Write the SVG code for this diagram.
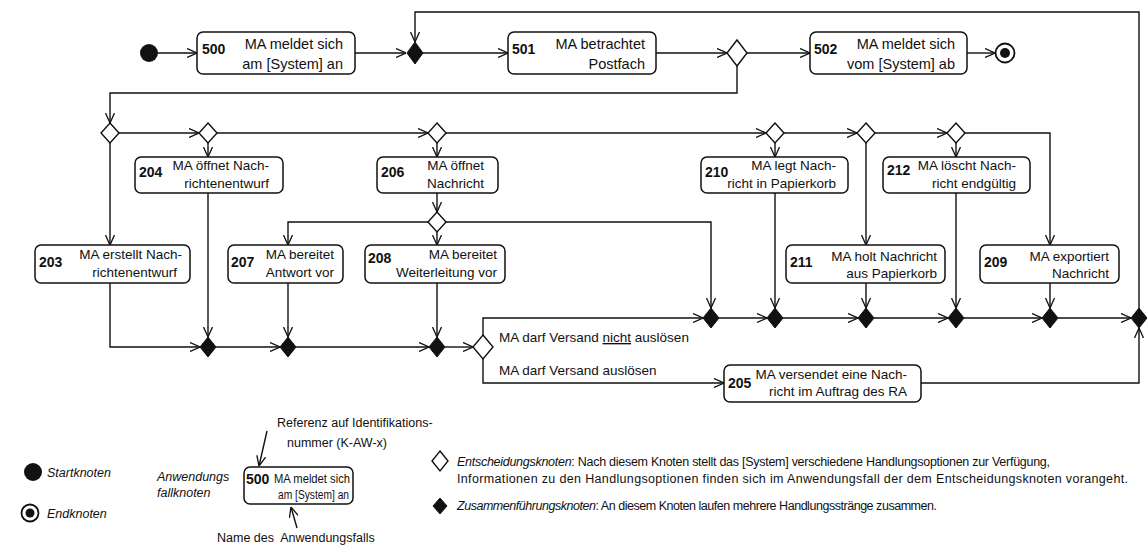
<svg xmlns="http://www.w3.org/2000/svg" width="1148" height="547" viewBox="0 0 1148 547">
<defs>
<marker id="arr" viewBox="0 0 10 10" refX="10" refY="5" markerWidth="10" markerHeight="10" markerUnits="userSpaceOnUse" orient="auto">
<path d="M0,0.5 L10,5 L0,9.5" fill="none" stroke="#111" stroke-width="1.3"/>
</marker>
<style>
.ln{fill:none;stroke:#111;stroke-width:1.4}
.bx{fill:#fff;stroke:#111;stroke-width:1.5}
.dec{fill:#fff;stroke:#111;stroke-width:1.4}
.mrg{fill:#111;stroke:#111;stroke-width:1}
.t{font-family:"Liberation Sans",Arial,sans-serif;font-size:13.5px;fill:#111}
.tt{font-family:"Liberation Sans",Arial,sans-serif;font-size:14.5px;fill:#111}
.n{font-family:"Liberation Sans",Arial,sans-serif;font-size:14px;font-weight:bold;fill:#111}
.e{text-anchor:end}
.lg{font-family:"Liberation Sans",Arial,sans-serif;font-size:12.5px;fill:#111}
.it{font-style:italic}
</style>
</defs>
<rect width="1148" height="547" fill="#fff"/>

<g id="connectors">
<path class="ln" marker-end="url(#arr)" d="M158,53 H197"/>
<path class="ln" marker-end="url(#arr)" d="M355,53 H406"/>
<path class="ln" marker-end="url(#arr)" d="M423,53 H508"/>
<path class="ln" marker-end="url(#arr)" d="M656,53 H727"/>
<path class="ln" marker-end="url(#arr)" d="M747,53 H810"/>
<path class="ln" marker-end="url(#arr)" d="M967,53 H995"/>
<path class="ln" marker-end="url(#arr)" d="M1139,308 V12 H415 V42"/>
<path class="ln" marker-end="url(#arr)" d="M737,66 V93 H110 V123"/>
<path class="ln" marker-end="url(#arr)" d="M119,133 H199"/>
<path class="ln" marker-end="url(#arr)" d="M217,133 H428"/>
<path class="ln" marker-end="url(#arr)" d="M446,133 H766"/>
<path class="ln" marker-end="url(#arr)" d="M784,133 H857"/>
<path class="ln" marker-end="url(#arr)" d="M875,133 H947"/>
<path class="ln" marker-end="url(#arr)" d="M965,133 H1050 V245"/>
<path class="ln" marker-end="url(#arr)" d="M110,143 V245"/>
<path class="ln" marker-end="url(#arr)" d="M208,143 V157"/>
<path class="ln" marker-end="url(#arr)" d="M437,143 V157"/>
<path class="ln" marker-end="url(#arr)" d="M775,143 V157"/>
<path class="ln" marker-end="url(#arr)" d="M866,143 V245"/>
<path class="ln" marker-end="url(#arr)" d="M956,143 V157"/>
<path class="ln" marker-end="url(#arr)" d="M208,193 V337"/>
<path class="ln" marker-end="url(#arr)" d="M437,193 V212"/>
<path class="ln" marker-end="url(#arr)" d="M428,222 H288 V245"/>
<path class="ln" marker-end="url(#arr)" d="M437,232 V245"/>
<path class="ln" marker-end="url(#arr)" d="M446,222 H711 V308"/>
<path class="ln" marker-end="url(#arr)" d="M775,193 V308"/>
<path class="ln" marker-end="url(#arr)" d="M956,193 V308"/>
<path class="ln" marker-end="url(#arr)" d="M110,283 V347 H200"/>
<path class="ln" marker-end="url(#arr)" d="M216,347 H280"/>
<path class="ln" marker-end="url(#arr)" d="M288,283 V337"/>
<path class="ln" marker-end="url(#arr)" d="M296,347 H429"/>
<path class="ln" marker-end="url(#arr)" d="M437,283 V337"/>
<path class="ln" marker-end="url(#arr)" d="M445,347 H473"/>
<path class="ln" marker-end="url(#arr)" d="M483,335 V318 H703"/>
<path class="ln" marker-end="url(#arr)" d="M483,359 V383 H724"/>
<path class="ln" marker-end="url(#arr)" d="M921,383 H1139 V328"/>
<path class="ln" marker-end="url(#arr)" d="M719,318 H767"/>
<path class="ln" marker-end="url(#arr)" d="M783,318 H858"/>
<path class="ln" marker-end="url(#arr)" d="M874,318 H948"/>
<path class="ln" marker-end="url(#arr)" d="M964,318 H1042"/>
<path class="ln" marker-end="url(#arr)" d="M1058,318 H1131"/>
<path class="ln" marker-end="url(#arr)" d="M866,283 V308"/>
<path class="ln" marker-end="url(#arr)" d="M1050,283 V308"/>
<text class="t" x="499" y="342">MA darf Versand <tspan text-decoration="underline">nicht</tspan> auslösen</text>
<text class="t" x="499" y="375">MA darf Versand auslösen</text>
</g>

<g id="start"><circle cx="149" cy="53" r="9" fill="#111"/></g>
<g id="end"><circle cx="1005" cy="53" r="9.5" fill="#fff" stroke="#111" stroke-width="1.8"/><circle cx="1005" cy="53" r="5" fill="#111"/></g>

<g id="n500"><rect class="bx" x="197" y="32" width="158" height="42" rx="6"/>
<text class="n" x="202" y="54">500</text>
<text class="tt e" x="343" y="49">MA meldet sich</text><text class="tt e" x="343" y="69">am [System] an</text></g>
<g id="m0"><path class="mrg" d="M415,42 L423,53 L415,64 L407,53 Z"/></g>
<g id="n501"><rect class="bx" x="508" y="32" width="148" height="42" rx="6"/>
<text class="n" x="512" y="54">501</text>
<text class="tt e" x="645" y="49">MA betrachtet</text><text class="tt e" x="645" y="69">Postfach</text></g>
<g id="d0"><path class="dec" d="M737,40 L747,53 L737,66 L727,53 Z"/></g>
<g id="n502"><rect class="bx" x="810" y="32" width="157" height="42" rx="6"/>
<text class="n" x="814" y="54">502</text>
<text class="tt e" x="955" y="49">MA meldet sich</text><text class="tt e" x="955" y="69">vom [System] ab</text></g>

<g id="d1"><path class="dec" d="M110,123 L119,133 L110,143 L101,133 Z"/></g>
<g id="d2"><path class="dec" d="M208,123 L217,133 L208,143 L199,133 Z"/></g>
<g id="d3"><path class="dec" d="M437,123 L446,133 L437,143 L428,133 Z"/></g>
<g id="d4"><path class="dec" d="M775,123 L784,133 L775,143 L766,133 Z"/></g>
<g id="d5"><path class="dec" d="M866,123 L875,133 L866,143 L857,133 Z"/></g>
<g id="d6"><path class="dec" d="M956,123 L965,133 L956,143 L947,133 Z"/></g>
<g id="d7"><path class="dec" d="M437,212 L446,222 L437,232 L428,222 Z"/></g>
<g id="d8"><path class="dec" d="M483,335 L493,347 L483,359 L473,347 Z"/></g>

<g id="n204"><rect class="bx" x="135" y="157" width="148" height="36" rx="6"/>
<text class="n" x="139" y="177">204</text>
<text class="t e" x="269" y="170">MA öffnet Nach-</text><text class="t e" x="269" y="188">richtenentwurf</text></g>
<g id="n206"><rect class="bx" x="377" y="157" width="121" height="36" rx="6"/>
<text class="n" x="381" y="177">206</text>
<text class="t e" x="484" y="170">MA öffnet</text><text class="t e" x="484" y="188">Nachricht</text></g>
<g id="n210"><rect class="bx" x="701" y="157" width="147" height="36" rx="6"/>
<text class="n" x="705" y="177">210</text>
<text class="t e" x="836" y="170">MA legt Nach-</text><text class="t e" x="836" y="188">richt in Papierkorb</text></g>
<g id="n212"><rect class="bx" x="883" y="157" width="147" height="36" rx="6"/>
<text class="n" x="887" y="175">212</text>
<text class="t e" x="1016" y="170">MA löscht Nach-</text><text class="t e" x="1016" y="188">richt endgültig</text></g>

<g id="n203"><rect class="bx" x="35" y="245" width="155" height="38" rx="6"/>
<text class="n" x="39" y="267">203</text>
<text class="t e" x="182" y="259">MA erstellt Nach-</text><text class="t e" x="177" y="277">richtenentwurf</text></g>
<g id="n207"><rect class="bx" x="228" y="245" width="115" height="38" rx="6"/>
<text class="n" x="231" y="267">207</text>
<text class="t e" x="334" y="259">MA bereitet</text><text class="t e" x="334" y="277">Antwort vor</text></g>
<g id="n208"><rect class="bx" x="365" y="245" width="140" height="38" rx="6"/>
<text class="n" x="368" y="263">208</text>
<text class="t e" x="497" y="259">MA bereitet</text><text class="t e" x="497" y="277">Weiterleitung vor</text></g>
<g id="n211"><rect class="bx" x="786" y="245" width="159" height="38" rx="6"/>
<text class="n" x="790" y="267">211</text>
<text class="t e" x="937" y="261">MA holt Nachricht</text><text class="t e" x="937" y="278">aus Papierkorb</text></g>
<g id="n209"><rect class="bx" x="980" y="245" width="139" height="38" rx="6"/>
<text class="n" x="984" y="267">209</text>
<text class="t e" x="1109" y="261">MA exportiert</text><text class="t e" x="1109" y="278">Nachricht</text></g>

<g id="m2"><path class="mrg" d="M208,337 L216,347 L208,357 L200,347 Z"/></g>
<g id="m3"><path class="mrg" d="M288,337 L296,347 L288,357 L280,347 Z"/></g>
<g id="m4"><path class="mrg" d="M437,337 L445,347 L437,357 L429,347 Z"/></g>
<g id="n1"><path class="mrg" d="M711,308 L719,318 L711,328 L703,318 Z"/></g>
<g id="n2"><path class="mrg" d="M775,308 L783,318 L775,328 L767,318 Z"/></g>
<g id="n3"><path class="mrg" d="M866,308 L874,318 L866,328 L858,318 Z"/></g>
<g id="n4"><path class="mrg" d="M956,308 L964,318 L956,328 L948,318 Z"/></g>
<g id="n5"><path class="mrg" d="M1050,308 L1058,318 L1050,328 L1042,318 Z"/></g>
<g id="n6"><path class="mrg" d="M1139,308 L1147,318 L1139,328 L1131,318 Z"/></g>

<g id="n205"><rect class="bx" x="724" y="365" width="197" height="37" rx="6"/>
<text class="n" x="728" y="388">205</text>
<text class="t e" x="907" y="379">MA versendet eine Nach-</text><text class="t e" x="907" y="396">richt im Auftrag des RA</text></g>

<g id="legend">
<circle cx="33" cy="472" r="9" fill="#111"/>
<text class="lg it" x="47" y="477">Startknoten</text>
<circle cx="30" cy="513" r="8.5" fill="#fff" stroke="#111" stroke-width="1.8"/><circle cx="30" cy="513" r="4.5" fill="#111"/>
<text class="lg it" x="47" y="518">Endknoten</text>
<text class="lg it" x="157" y="481">Anwendungs</text>
<text class="lg it" x="157" y="497">fallknoten</text>
<rect class="bx" x="244" y="467" width="109" height="37" rx="6"/>
<text class="n" x="246" y="484" font-size="13px">500</text>
<text class="lg" x="274" y="483" textLength="76" lengthAdjust="spacingAndGlyphs">MA meldet sich</text><text class="lg" x="278" y="499" textLength="71" lengthAdjust="spacingAndGlyphs">am [System] an</text>
<text class="lg" x="277" y="427">Referenz auf Identifikations-</text>
<text class="lg" x="287" y="447">nummer (K-AW-x)</text>
<path class="ln" marker-end="url(#arr)" d="M267,431 L259,466"/>
<text class="lg" x="217" y="542" style="white-space:pre">Name des  Anwendungsfalls</text>
<path class="ln" marker-end="url(#arr)" d="M297,528 L291,507"/>
<path class="dec" d="M440,451 L448,461 L440,471 L432,461 Z"/>
<text class="lg" x="457" y="466" textLength="593"><tspan class="it">Entscheidungsknoten</tspan>: Nach diesem Knoten stellt das [System] verschiedene Handlungsoptionen zur Verfügung,</text>
<text class="lg" x="457" y="483" textLength="671">Informationen zu den Handlungsoptionen finden sich im Anwendungsfall der dem Entscheidungsknoten vorangeht.</text>
<path class="mrg" d="M440,498 L447,506 L440,514 L433,506 Z"/>
<text class="lg" x="457" y="510" textLength="480"><tspan class="it">Zusammenführungsknoten</tspan>: An diesem Knoten laufen mehrere Handlungsstränge zusammen.</text>
</g>
</svg>
